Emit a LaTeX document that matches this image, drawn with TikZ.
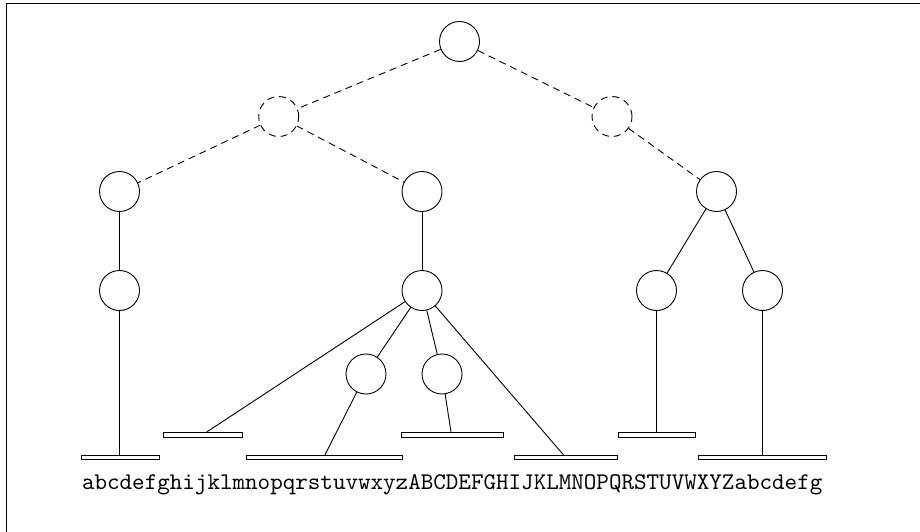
\documentclass[tikz,border=0pt]{standalone}
\usepackage{fontspec}
\newfontfamily\lmtten{lmmono10-regular.otf}
\usetikzlibrary{calc}
\begin{document}
\begin{tikzpicture}[x=1pt,y=-1pt,
  tnode/.style={circle,draw,line width=0.9pt,minimum size=40pt,inner sep=0pt},
  dnode/.style={tnode,dash pattern=on 7pt off 5pt},
  edge/.style={line width=0.9pt},
  dedge/.style={line width=0.9pt,dash pattern=on 7pt off 5pt},
  bar/.style={draw,fill=white,line width=0.9pt,inner sep=0pt,minimum height=4.5pt,anchor=north west}
]
\useasboundingbox (0,0) rectangle (920,532);
\begin{scope}
\clip (0,0) rectangle (920,532);
\draw[line width=1.3pt] (6.5,3.5) rectangle (940,560);
\end{scope}

% nodes
\node[tnode] (r) at (459.5,41.5) {};
\node[dnode] (l1) at (278.7,116.5) {};
\node[dnode] (r1) at (612,116.5) {};
\node[tnode] (a) at (119.5,191.5) {};
\node[tnode] (b) at (422,191.5) {};
\node[tnode] (c) at (716.5,191.5) {};
\node[tnode] (a2) at (119.5,290.5) {};
\node[tnode] (b2) at (422,290.5) {};
\node[tnode] (c2l) at (656.5,290.5) {};
\node[tnode] (c2r) at (762.5,290.5) {};
\node[tnode] (b3a) at (366,374) {};
\node[tnode] (b3b) at (442,374) {};

% bars
\node[bar,minimum width=78pt] (s1) at (80.7,454.7) {};
\node[bar,minimum width=78.7pt] (s2) at (163.3,432) {};
\node[bar,minimum width=155.7pt] (s3) at (246,454.7) {};
\node[bar,minimum width=102.6pt] (s4) at (400.7,432) {};
\node[bar,minimum width=102.4pt] (s5) at (514.3,454.7) {};
\node[bar,minimum width=77.6pt] (s6) at (617.7,432) {};
\node[bar,minimum width=127.4pt] (s7) at (698.3,454.7) {};

% attachment points on bars
\coordinate (p1) at (s1.north -| a2);
\coordinate (p2) at (206.7,432);
\coordinate (p3) at (325,454.7);
\coordinate (p4) at (451,432);
\coordinate (p5) at (563.3,454.7);
\coordinate (p6) at (s6.north -| c2l);
\coordinate (p7) at (s7.north -| c2r);

% dashed edges
\draw[dedge] (r) -- (l1);
\draw[dedge] (r) -- (r1);
\draw[dedge] (l1) -- (a);
\draw[dedge] (l1) -- (b);
\draw[dedge] (r1) -- (c);

% solid edges
\draw[edge] (a) -- (a2);
\draw[edge] (a2) -- (p1);
\draw[edge] (b) -- (b2);
\draw[edge] (b2) -- (p2);
\draw[edge] (b2) -- (b3a);
\draw[edge] (b2) -- (b3b);
\draw[edge] (b2) -- (p5);
\draw[edge] (b3a) -- (p3);
\draw[edge] (b3b) -- (p4);
\draw[edge] (c) -- (c2l);
\draw[edge] (c) -- (c2r);
\draw[edge] (c2l) -- (p6);
\draw[edge] (c2r) -- (p7);

\node[anchor=base,inner sep=0pt,font=\lmtten\fontsize{23.9}{27}\selectfont] (txt) at (452.2,489) {abcdefghijklmnopqrstuvwxyzABCDEFGHIJKLMNOPQRSTUVWXYZabcdefg};
\end{tikzpicture}
\end{document}
